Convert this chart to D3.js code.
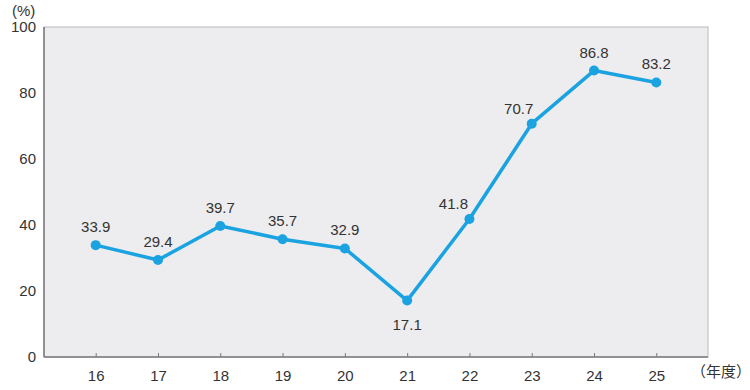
<!DOCTYPE html>
<html>
<head>
<meta charset="utf-8">
<script src="https://cdn.jsdelivr.net/npm/d3@7"></script>
<style>
  body { margin: 0; background: #fff; }
  text { font-family: "Liberation Sans", Arial, sans-serif; fill: #333; }
</style>
</head>
<body>
<div id="chart"></div>
<script>
const years = ["16", "17", "18", "19", "20", "21", "22", "23", "24", "25"];
const rates = [33.9, 29.4, 39.7, 35.7, 32.9, 17.1, 41.8, 70.7, 86.8, 83.2];
const yTicks = [0, 20, 40, 60, 80, 100];

const width = 750, height = 390;
const margin = { top: 27, right: 42, bottom: 33, left: 44 };
const innerW = width - margin.left - margin.right;
const innerH = height - margin.top - margin.bottom;
const font = "'Liberation Sans', Arial, sans-serif";

const svg = d3.select("#chart").append("svg")
  .attr("width", width)
  .attr("height", height);

const g = svg.append("g")
  .attr("transform", `translate(${margin.left}, ${margin.top})`);

const x = d3.scalePoint().domain(years).range([0, innerW]).padding(0.83);
const y = d3.scaleLinear().domain([0, 100]).range([innerH, 0]);

// plot background
g.append("rect")
  .attr("width", innerW)
  .attr("height", innerH)
  .attr("fill", "#ededf0")
  .attr("stroke", "#b8b8bc")
  .attr("stroke-width", 1);

// left and bottom borders darker
g.append("line").attr("x1", 0).attr("x2", 0).attr("y1", 0).attr("y2", innerH)
  .attr("stroke", "#7a7a7e").attr("stroke-width", 1.5);
g.append("line").attr("x1", 0).attr("x2", innerW).attr("y1", innerH).attr("y2", innerH)
  .attr("stroke", "#7a7a7e").attr("stroke-width", 1.5);

// x axis ticks (inward) and labels
const xAxis = g.append("g").attr("transform", `translate(0, ${innerH})`)
  .call(d3.axisBottom(x).tickSize(-4).tickPadding(13));
xAxis.select(".domain").remove();
xAxis.selectAll(".tick line").attr("stroke", "#7a7a7e");
xAxis.selectAll("text").attr("font-size", 15).attr("fill", "#333")
  .style("font-family", font);

// y axis labels
const yAxis = g.append("g")
  .call(d3.axisLeft(y).tickValues(yTicks).tickSize(0).tickPadding(8));
yAxis.select(".domain").remove();
yAxis.selectAll("text").attr("font-size", 15).attr("fill", "#333")
  .style("font-family", font);

// unit labels
svg.append("text").attr("x", 12).attr("y", 16).attr("font-size", 15).text("(%)");
svg.append("text").attr("x", 691).attr("y", 377).attr("font-size", 15)
  .style("font-family", "'Noto Sans CJK JP', sans-serif").text("（年度）");

const pts = years.map((yr, i) => ({ yr, v: rates[i] }));

const line = d3.line().x(d => x(d.yr)).y(d => y(d.v));

g.append("path")
  .datum(pts)
  .attr("d", line)
  .attr("fill", "none")
  .attr("stroke", "#1aa3e0")
  .attr("stroke-width", 3.5)
  .attr("stroke-linejoin", "round");

g.selectAll("circle")
  .data(pts)
  .join("circle")
  .attr("cx", d => x(d.yr))
  .attr("cy", d => y(d.v))
  .attr("r", 5)
  .attr("fill", "#1aa3e0");

// label offsets: below for the dip, shifted left on the steep rise
const dx = { "22": -16, "23": -13 };
g.selectAll(".val")
  .data(pts)
  .join("text")
  .attr("class", "val")
  .attr("x", d => x(d.yr) + (dx[d.yr] || 0))
  .attr("y", d => d.yr === "21" ? y(d.v) + 29 : y(d.v) - (dx[d.yr] ? 10 : 13))
  .attr("text-anchor", "middle")
  .attr("font-size", 15)
  .text(d => d.v.toFixed(1));
</script>
</body>
</html>
